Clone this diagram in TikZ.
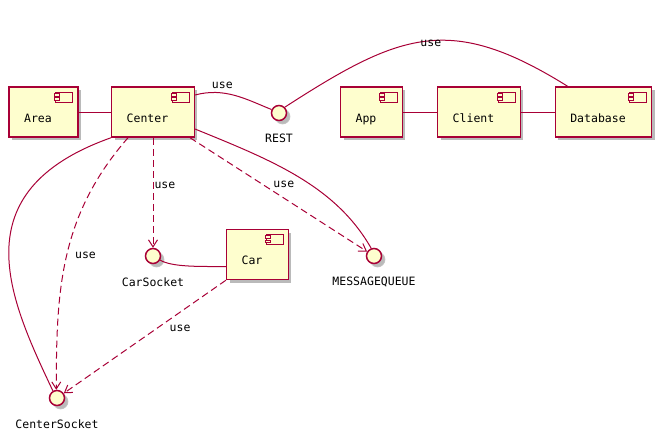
\documentclass[tikz,border=0pt]{standalone}
\usepackage{fontspec}
\newfontfamily\schrift{DejaVu Sans Mono}
\usetikzlibrary{arrows.meta,shadows}
\definecolor{rahmen}{HTML}{A80036}
\definecolor{fuellung}{HTML}{FEFECE}

\begin{document}
\begin{tikzpicture}[x=1pt, y=-1pt,
    komponente/.style={
      rectangle,
      draw=rahmen,
      fill=fuellung,
      line width=1.5pt,
      minimum height=50pt,
      inner xsep=15pt,
      text height=20pt,
      text depth=0pt,
      font=\schrift\fontsize{11.5pt}{14pt}\selectfont,
      execute at end node={\hspace*{11pt}},
      drop shadow={shadow xshift=3pt, shadow yshift=-3pt, fill=black!60, opacity=.45},
      path picture={
        \draw[rahmen, fill=fuellung, line width=1pt]
          ([shift={(-22pt,-5pt)}]path picture bounding box.north east)
          rectangle ([shift={(-5pt,-15pt)}]path picture bounding box.north east);
        \foreach \dy in {-6.3pt,-10.7pt}
          \draw[rahmen, fill=fuellung, line width=.8pt]
            ([shift={(-23.3pt,\dy)}]path picture bounding box.north east) rectangle +(5.3pt,-2.6pt);
      }},
    schnittstelle/.style={
      circle,
      draw=rahmen,
      fill=fuellung,
      line width=1.5pt,
      minimum size=15pt,
      inner sep=0pt,
      circular drop shadow={shadow xshift=3pt, shadow yshift=-3pt, fill=black!60, opacity=.45}},
    every label/.style={inner sep=0pt, yshift=-13pt, font=\schrift\fontsize{11.5pt}{14pt}\selectfont},
    beschriftung/.style={inner sep=0pt, font=\schrift\fontsize{11.5pt}{14pt}\selectfont},
    verbindung/.style={draw=rahmen, line width=1pt},
    nutzt/.style={verbindung, dash pattern=on 7pt off 4pt, -{Straight Barb[length=7pt,width=9pt]}}
    ]
  \useasboundingbox (0,0) rectangle (661,442);

  \node at (43.5,112) (area) [komponente] {Area};
  \node at (153,112) (center) [komponente] {Center};
  \node at (279,113) (rest) [schnittstelle, label={below:REST}] {};
  \node at (371.5,112) (app) [komponente] {App};
  \node at (479,112) (client) [komponente] {Client};
  \node at (603.5,112) (database) [komponente] {Database};

  \node at (153,256) (carsocket) [schnittstelle, label={below:CarSocket}] {};
  \node at (257.5,254.5) (car) [komponente] {Car};
  \node at (374,256) (messagequeue) [schnittstelle, label={below:MESSAGEQUEUE}] {};
  \node at (57,398) (centersocket) [schnittstelle, label={below:CenterSocket}] {};

  \path[verbindung]
        (area) edge (center)
        (app) edge (client)
        (client) edge (database);

  \draw[verbindung] ([yshift=17pt]center.east) .. controls +(30pt,8pt) and +(-25pt,10pt) .. (rest.155)
    node[beschriftung, pos=.33, above=4pt] {use};
  \draw[verbindung] (rest.45) .. controls +(116pt,75pt) and +(-117pt,73pt) .. ([xshift=13pt]database.north west)
    node[beschriftung, pos=.52, yshift=-3pt] {use};
  \draw[verbindung] ([yshift=-17pt]center.east) .. controls +(76pt,-31pt) and +(-36pt,63pt) .. (messagequeue.110);
  \draw[verbindung] (center.south west) .. controls +(-152pt,-54pt) and +(-43pt,91pt) .. (centersocket.120);
  \draw[verbindung] (carsocket.-30) .. controls +(12pt,-7pt) and +(-27pt,0pt) .. ([yshift=-12pt]car.west);

  % use-Pfeile
  \draw[nutzt] (center) -- node[beschriftung, pos=.43, right=1pt] {use} (carsocket);
  \draw[nutzt] ([xshift=-5pt]center.south east) -- node[beschriftung, pos=.53, above=9.5pt] {use} (messagequeue);
  \draw[nutzt] ([xshift=-25pt]center.south) .. controls +(-68pt,-78pt) and +(0pt,100pt) .. (centersocket.95)
    node[beschriftung, pos=.5, right=8pt] {use};
  \draw[nutzt] (car.south west) -- node[beschriftung, pos=.43, right=13pt] {use} (centersocket);

\end{tikzpicture}
\end{document}
